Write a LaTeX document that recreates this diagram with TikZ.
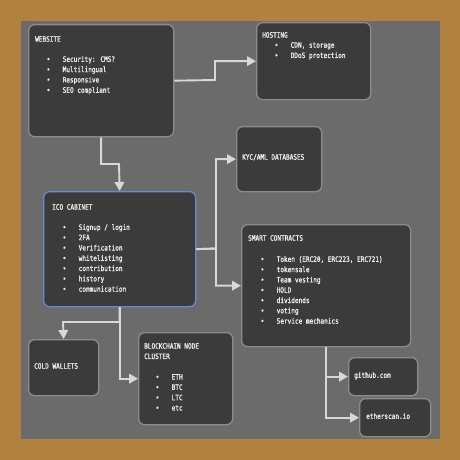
\documentclass[tikz,border=0pt]{standalone}
\usepackage{fontspec}
\newfontfamily\diagfont[FakeStretch=0.82,FakeBold=1.4]{DejaVu Sans Mono}
\usetikzlibrary{arrows.meta}
\definecolor{frame}{HTML}{B1823F}
\definecolor{panel}{HTML}{6B6B6B}
\definecolor{boxfill}{HTML}{3B3B3B}
\definecolor{boxline}{HTML}{8C8C8C}
\definecolor{cabinet}{HTML}{5E8FD2}
\definecolor{wire}{HTML}{D8D8D8}
\definecolor{ink}{HTML}{EDEDED}
\newcommand{\bul}[1]{\makebox[15.5pt][l]{\hspace{-0.6pt}•}#1}
\tikzset{
  box/.style={draw=boxline, fill=boxfill, line width=1.3pt, rounded corners=6pt,
              anchor=north west, inner sep=0pt},
  label/.style={anchor=north west, inner sep=0pt, align=left, text=ink,
                font=\diagfont\fontsize{7.4}{10.3}\selectfont},
  conn/.style={draw=wire, line width=1.9pt,
               -{Triangle[length=9pt,width=9.5pt]}}
}
\begin{document}
\begin{tikzpicture}[x=1pt,y=-1pt]
  % frame and panel
  \fill[frame] (0,0) rectangle (460,460);
  \fill[panel] (21,21) rectangle (440,439);
  \useasboundingbox (0,0) rectangle (460,460);

  % boxes
  \node[box, minimum width=145pt, minimum height=112pt] (web) at (28,24) {};
  \node[box, minimum width=114pt, minimum height=77pt] (host) at (256,22) {};
  \node[box, minimum width=85pt, minimum height=65pt] (kyc) at (236,126) {};
  \node[box, draw=cabinet, minimum width=152pt, minimum height=115pt] (ico) at (43,191) {};
  \node[box, minimum width=169pt, minimum height=122pt] (sc) at (241,224) {};
  \node[box, minimum width=70pt, minimum height=56pt] (cold) at (28,339) {};
  \node[box, minimum width=94pt, minimum height=92pt] (bnc) at (138,332) {};
  \node[box, minimum width=69pt, minimum height=38pt] (gh) at (348,357) {};
  \node[box, minimum width=71pt, minimum height=38pt] (es) at (359,398) {};

  % texts
  \node[label] (webt) at (35,36) {WEBSITE};
  \node[label] (webl) at (47,56) {\bul{Security: CMS?}\\\bul{Multilingual}\\\bul{Responsive}\\\bul{SEO compliant}};
  \node[label] (hostt) at (262,32) {HOSTING};
  \node[label] (hostl) at (275,42) {\bul{CDN, storage}\\\bul{DDoS protection}};
  \node[label] (kyct) at (242,154) {KYC/AML DATABASES};
  \node[label] (icot) at (52,204) {ICO CABINET};
  \node[label] (icol) at (63,224) {\bul{Signup / login}\\\bul{2FA}\\\bul{Verification}\\\bul{whitelisting}\\\bul{contribution}\\\bul{history}\\\bul{communication}};
  \node[label] (sct) at (248,235) {SMART CONTRACTS};
  \node[label] (scl) at (261,256) {\bul{Token (ERC20, ERC223, ERC721)}\\\bul{tokensale}\\\bul{Team vesting}\\\bul{HOLD}\\\bul{dividends}\\\bul{voting}\\\bul{Service mechanics}};
  \node[label] (coldt) at (34,363) {COLD WALLETS};
  \node[label] (bnct) at (144,343) {BLOCKCHAIN NODE\\CLUSTER};
  \node[label] (bncl) at (156,374) {\bul{ETH}\\\bul{BTC}\\\bul{LTC}\\\bul{etc}};
  \node[label] (ght) at (354,372) {github.com};
  \node[label] (est) at (366,413) {etherscan.io};

  % connectors
  \draw[conn] (web.east) -- (215,80) |- (host.west);
  \draw[conn] (web.south) |- (119,164) -- (ico.north);
  \draw[conn] (ico.east) -- (216,248.5) |- (kyc.west);
  \draw[conn] (ico.east) -- (216,248.5) |- (sc.west);
  \draw[conn] (ico.south) |- (63,322) -- (cold.north);
  \draw[conn] (ico.south) |- (bnc.west);
  \draw[conn] (sc.south) |- (gh.west);
  \draw[conn] (sc.south) |- (es.west);
\end{tikzpicture}
\end{document}
